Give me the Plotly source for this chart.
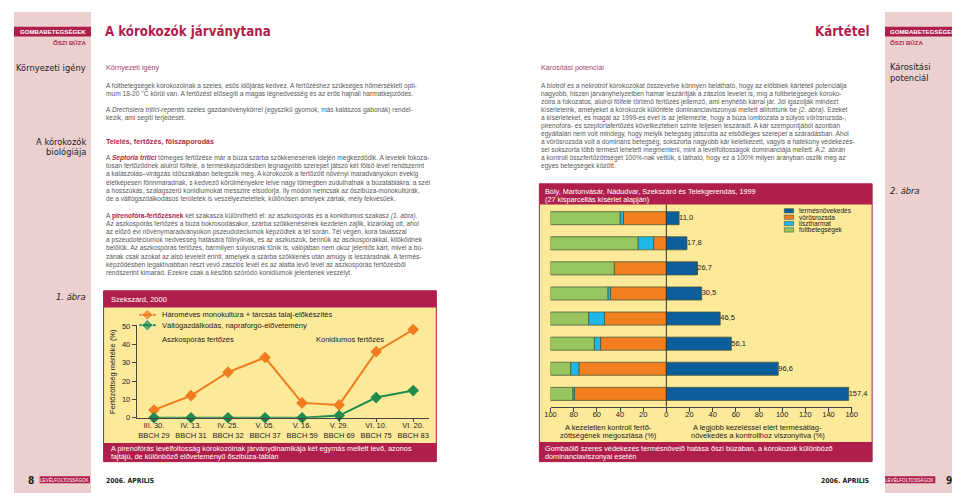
import plotly.graph_objects as go

W, H = 960, 493
def px(x): return x / W
def py(y): return 1 - y / H

# ---------------- data: chart 1 (1. ábra) ----------------
dates = ["III. 30.", "IV. 13.", "IV. 25.", "V. 05.", "V. 16.", "V. 29.", "VI. 10.", "VI. 20."]
bbch = ["BBCH 29", "BBCH 31", "BBCH 32", "BBCH 37", "BBCH 59", "BBCH 69", "BBCH 75", "BBCH 83"]
mono = [4.2, 12.0, 24.8, 32.8, 8.1, 7.0, 36.0, 48.0]
valto = [0, 0, 0, 0, 0, 1.2, 11.0, 14.8]
series1_names = ["Hároméves monokultúra + tárcsás talaj-előkészítés",
                 "Váltógazdálkodás, napraforgó-elővetemény"]
y1_ticks = [0, 10, 20, 30, 40, 50]

# ---------------- data: chart 2 (2. ábra) ----------------
termes = [11.0, 17.8, 26.7, 30.5, 46.5, 56.1, 96.6, 157.4]
voros = [37.0, 11.0, 45.0, 48.2, 53.4, 56.8, 75.5, 79.3]
liszt = [3.0, 13.5, 0.0, 2.3, 13.7, 5.4, 7.1, 1.5]
folt = [60.0, 75.5, 55.0, 49.5, 32.9, 37.8, 17.4, 19.2]
series2_names = ["termésnövekedés", "vörösrozsda", "lisztharmat", "foltbetegségek"]
x2_ticks = [-100, -80, -60, -40, -20, 0, 20, 40, 60, 80, 100, 120, 140, 160]

# ---------------- styles ----------------
CRIMSON = "#b01f4b"
PINK = "#ebd0cf"
YELLOW = "#fde99a"
ORANGE = "#f07d1f"
GREEN = "#1f8c4e"
C_BLUE = "#0b5d9c"
C_ORANGE = "#f27f20"
C_LBLUE = "#1db7ea"
C_GREEN = "#97c55f"
OUTLINE = "#4a5a3a"
DARK = "#222222"
GREY = "#5a5a5a"
MAG = "#a8426f"
SANS = "Liberation Sans, Arial, sans-serif"
NARROW = "Liberation Sans Narrow, Arial Narrow, DejaVu Sans Condensed, sans-serif"

fig = go.Figure()

# ---------------- chart 1 traces ----------------
xpos = list(range(len(dates)))
fig.add_trace(go.Scatter(x=xpos, y=mono, mode="lines+markers", name=series1_names[0],
                         line=dict(color=ORANGE, width=2),
                         marker=dict(symbol="diamond", size=9, color=ORANGE),
                         cliponaxis=False, xaxis="x", yaxis="y"))
fig.add_trace(go.Scatter(x=xpos, y=valto, mode="lines+markers", name=series1_names[1],
                         line=dict(color=GREEN, width=2),
                         marker=dict(symbol="diamond", size=9, color=GREEN),
                         cliponaxis=False, xaxis="x", yaxis="y"))

# ---------------- chart 2 traces ----------------
rows = list(range(len(termes)))
bar_specs = [
    (series2_names[0], termes, C_BLUE, 1),
    (series2_names[1], voros, C_ORANGE, -1),
    (series2_names[2], liszt, C_LBLUE, -1),
    (series2_names[3], folt, C_GREEN, -1),
]
for name, vals, col, sgn in bar_specs:
    fig.add_trace(go.Bar(x=[sgn * v for v in vals], y=rows, orientation="h", name=name,
                         width=0.52, marker=dict(color=col, line=dict(color=OUTLINE, width=0.8)),
                         xaxis="x2", yaxis="y2"))
fig.add_trace(go.Scatter(x=termes, y=rows, mode="text",
                         text=[f"{v:.1f}".replace(".", ",") for v in termes],
                         textposition="middle right",
                         textfont=dict(family=SANS, size=7.5, color=DARK),
                         cliponaxis=False, xaxis="x2", yaxis="y2"))

# ---------------- legend symbols for chart 1 (pixel overlay axis) ----------------
for yy, col in [(308.5, ORANGE), (319.0, GREEN)]:
    fig.add_trace(go.Scatter(x=[127, 135, 143.5], y=[yy, yy, yy], mode="lines+markers",
                             line=dict(color=col, width=2),
                             marker=dict(symbol="diamond", size=[0, 9, 0], color=col),
                             cliponaxis=False, xaxis="x3", yaxis="y3"))

# ---------------- layout / axes ----------------
tick_font = dict(family=SANS, size=7.5, color=DARK)
fig.update_layout(
    width=W, height=H, margin=dict(l=0, r=0, t=0, b=0),
    paper_bgcolor="white", plot_bgcolor="rgba(0,0,0,0)",
    showlegend=False, barmode="relative",
    xaxis=dict(domain=[px(124.3), px(420)], range=[-0.464, 7.42], anchor="y",
               tickvals=xpos, ticktext=[f"{d}<br>{b}" for d, b in zip(dates, bbch)],
               ticks="outside", ticklen=3, tickcolor="#444", showline=True, linecolor="#444",
               linewidth=1, showgrid=False, zeroline=False, tickfont=tick_font,
               ticklabelstandoff=-3, fixedrange=True),
    yaxis=dict(domain=[py(413.3), py(319)], range=[0, 50.4], anchor="x",
               tickvals=y1_ticks, ticks="outside", ticklen=4, tickcolor="#444",
               showline=True, linecolor="#444", linewidth=1, showgrid=False, zeroline=False,
               tickfont=tick_font, fixedrange=True),
    xaxis2=dict(domain=[px(543.3), px(848.3)], range=[-100, 160], anchor="y2",
                tickvals=x2_ticks, ticktext=[str(abs(t)) for t in x2_ticks],
                ticks="outside", ticklen=4, tickcolor="#444", showline=True, linecolor="#444",
                linewidth=1, showgrid=False, zeroline=False, tickfont=tick_font,
                ticklabelstandoff=-4, fixedrange=True),
    yaxis2=dict(domain=[py(402), py(196)], range=[7.51, -0.548], anchor="x2",
                visible=False, fixedrange=True),
    xaxis3=dict(domain=[0, 1], range=[0, W], anchor="y3", visible=False, fixedrange=True),
    yaxis3=dict(domain=[0, 1], range=[H, 0], anchor="x3", visible=False, fixedrange=True),
)

shapes = []
def rect(x0, y0, x1, y1, fill, line=None, lw=0, layer="below"):
    shapes.append(dict(type="rect", xref="paper", yref="paper",
                       x0=px(x0), x1=px(x1), y0=py(y1), y1=py(y0),
                       fillcolor=fill, line=dict(color=line or fill, width=lw), layer=layer))

# sidebars and bands
rect(0, 0, 78, H, PINK)
rect(882, 0, W, H, PINK)
rect(0, 15, 78, 25, CRIMSON)
rect(882, 15, W, 25, CRIMSON)
rect(26, 473, 77, 480, CRIMSON)
rect(882, 473, 933, 480, CRIMSON)
# chart 1 box
rect(90.7, 284, 427.7, 458, YELLOW, CRIMSON, 1)
rect(90.7, 284, 427.7, 301, CRIMSON)
rect(90.7, 439, 427.7, 458, CRIMSON)
# chart 2 box
rect(532, 175, 869, 458, YELLOW, CRIMSON, 1)
rect(532, 175, 869, 196, CRIMSON)
rect(532, 438, 869, 458, CRIMSON)
# zero line chart 2
shapes.append(dict(type="line", xref="x2", yref="paper", x0=0, x1=0, y0=py(402), y1=py(196),
                   line=dict(color="#333", width=1), layer="above"))
# legend squares chart 2
leg2_colors = [C_BLUE, C_ORANGE, C_LBLUE, C_GREEN]
leg2_y = [202.5, 209.0, 215.5, 222.0]
for yy, col in zip(leg2_y, leg2_colors):
    rect(780, yy - 2.2, 789.5, yy + 2.2, col, OUTLINE, 0.6, layer="above")
fig.update_layout(shapes=shapes)

ann = []
def text(x, y, s, size=6.6, color=GREY, family=SANS, xanchor="left", angle=0):
    ann.append(dict(x=px(x), y=py(y), xref="paper", yref="paper", text=s, showarrow=False,
                    xanchor=xanchor, yanchor="middle", textangle=angle,
                    font=dict(family=family, size=size, color=color)))

# header
text(75, 20, "<b>GOMBABETEGSÉGEK</b>", 6.1, "white", SANS, "right")
text(75, 31, "<b>ŐSZI BÚZA</b>", 6.1, CRIMSON, SANS, "right")
text(885, 20, "<b>GOMBABETEGSÉGEK</b>", 6.1, "white", SANS, "left")
text(885, 31, "<b>ŐSZI BÚZA</b>", 6.1, CRIMSON, SANS, "left")
text(90, 20, "<b>A kórokozók járványtana</b>", 13.2, CRIMSON, NARROW, "left")
text(869, 20, "<b>Kártétel</b>", 13.2, CRIMSON, NARROW, "right")

# sidebar headings
text(75, 57, "Környezeti igény", 9.3, DARK, NARROW, "right")
text(75, 132, "A kórokozók", 9.3, DARK, NARROW, "right")
text(75, 142, "biológiája", 9.3, DARK, NARROW, "right")
text(75, 290, "<i>1. ábra</i>", 9.3, DARK, NARROW, "right")
text(885, 56, "Károsítási", 9.3, DARK, NARROW, "left")
text(885, 67, "potenciál", 9.3, DARK, NARROW, "left")
text(885, 182, "<i>2. ábra</i>", 9.3, DARK, NARROW, "left")

# footer
text(12, 477, "<b>8</b>", 10, DARK, NARROW, "left")
text(51.5, 476.7, "LEVÉLFOLTOSSÁGOK", 4.6, "white", SANS, "center")
text(91, 477, "<b>2006. ÁPRILIS</b>", 6.8, DARK, NARROW, "left")
text(868, 477, "<b>2006. ÁPRILIS</b>", 6.8, DARK, NARROW, "right")
text(907.5, 476.7, "LEVÉLFOLTOSSÁGOK", 4.6, "white", SANS, "center")
text(942, 477, "<b>9</b>", 10, DARK, NARROW, "left")

# body text, left column
CR = "#b01f4b"
text(91, 57, "Környezeti igény", 7.2, MAG)
left_a = [
    (75.0, "A foltbetegségek kórokozóinak a szeles, esős időjárás kedvez. A fertőzéshez szükséges hőmérsékleti opti-"),
    (83.4, "mum 18-20 °C körül van. A fertőzést elősegíti a magas légnedvesség és az erős hajnali harmatképződés."),
    (99.7, "A <i>Drechslera tritici-repentis</i> széles gazdanövénykörrel (egyszikű gyomok, más kalászos gabonák) rendel-"),
    (108.1, "kezik, ami segíti terjedését."),
]
for yy, s in left_a:
    text(91, yy, s)
text(91, 132, "<b>Telelés, fertőzés, fölszaporodás</b>", 7.2, CR)
left_b = [
    f"A <b><i><span style='color:{CR}'>Septoria tritici</span></i></b> tömeges fertőzése már a búza szárba szökkenésének idején megkezdődik. A levelek fokoza-",
    "tosan fertőződnek alulról fölfelé, a termésképződésben legnagyobb szerepet játszó két fölső levél rendszerint",
    "a kalászolás–virágzás időszakában betegszik meg. A kórokozók a fertőzött növényi maradványokon évekig",
    "életképesen fönnmaradnak, s kedvező körülményekre lelve nagy tömegben zúdulhatnak a búzatáblákra: a szél",
    "a hosszúkás, szalagszerű konidiumokat messzire elsodorja. Ily módon nemcsak az őszibúza-monokultúrák,",
    "de a váltógazdálkodásos területek is veszélyeztetettek, különösen amelyek zártak, mély fekvésűek.",
]
for i, s in enumerate(left_b):
    text(91, 148.7 + 8.38 * i, s)
left_c = [
    f"A <b><span style='color:{CR}'>pirenofóra-fertőzésnek</span></b> két szakasza különíthető el: az aszkospórás és a konidiumos szakasz <i>(1. ábra)</i>.",
    "Az aszkospórás fertőzés a búza bokrosodásakor, szárba szökkenésének kezdetén zajlik, kizárólag ott, ahol",
    "az előző évi növénymaradványokon pszeudotéciumok képződtek a tél során. Tél végén, kora tavasszal",
    "a pszeudotéciumok nedvesség hatására fölnyílnak, és az aszkuszok, bennük az aszkospórákkal, kilökődnek",
    "belőlük. Az aszkospórás fertőzés, bármilyen súlyosnak tűnik is, valójában nem okoz jelentős kárt, mivel a bú-",
    "zának csak azokat az alsó leveleit érinti, amelyek a szárba szökkenés után amúgy is leszáradnak. A termés-",
    "képződésben legaktívabban részt vevő zászlós levél és az alatta levő levél az aszkospórás fertőzésből",
    "rendszerint kimarad. Ezekre csak a később szóródó konidiumok jelentenek veszélyt.",
]
for i, s in enumerate(left_c):
    text(91, 207.3 + 8.38 * i, s)

# body text, right column
text(531.5, 57, "Károsítási potenciál", 7.2, MAG)
right_a = [
    "A biotróf és a nekrotróf kórokozókat összevetve könnyen belátható, hogy az előbbiek kártételi potenciálja",
    "nagyobb, hiszen járványhelyzetben hamar leszárítják a zászlós levelet is, míg a foltbetegségek kóroko-",
    "zóira a fokozatos, alulról fölfelé történő fertőzés jellemző, ami enyhébb kárral jár. Jól igazolják mindezt",
    "kísérleteink, amelyeket a kórokozók különféle dominanciaviszonyai mellett állítottunk be <i>(2. ábra)</i>. Ezeket",
    "a kísérleteket, és magát az 1999-es évet is az jellemezte, hogy a búza lombozata a súlyos vörösrozsda-,",
    "pirenofóra- és szeptóriafertőzés következtében szinte teljesen leszáradt. A kár szempontjából azonban",
    "egyáltalán nem volt mindegy, hogy melyik betegség játszotta az elsődleges szerepet a száradásban. Ahol",
    "a vörösrozsda volt a domináns betegség, sokszorta nagyobb kár keletkezett, vagyis a hatékony védekezés-",
    "sel sokszorta több termést lehetett megmenteni, mint a levélfoltosságok dominanciája mellett. A <i>2. ábrán</i>",
    "a kontroll összfertőzöttségét 100%-nak vettük, s látható, hogy ez a 100% milyen arányban oszlik meg az",
    "egyes betegségek között.",
]
for i, s in enumerate(right_a):
    text(531.5, 75.5 + 8.15 * i, s)

# chart 1 texts
text(96, 292.5, "Szekszárd, 2000", 7.5, "white")
text(148, 308.5, series1_names[0], 7.5, DARK)
text(148, 319.0, series1_names[1], 7.5, DARK)
text(186.7, 334, "Aszkospórás fertőzés", 7.5, DARK, SANS, "center")
text(340, 334, "Konidiumos fertőzés", 7.5, DARK, SANS, "center")
text(100, 366, "Fertőzöttség mértéke (%)", 7.5, DARK, SANS, "center", -90)
text(96, 444.7, "A pirenofórás levélfoltosság kórokozóinak járványdinamikája két egymás mellett levő, azonos", 7.3, "white")
text(96, 453.2, "fajtájú, de különböző előveteményű őszibúza-táblán", 7.3, "white")

# chart 2 texts
text(536, 183, "Bóly, Martonvásár, Nádudvar, Szekszárd és Telekgerendás, 1999", 7.3, "white")
text(536, 190.5, "(27 kisparcellás kísérlet alapján)", 7.3, "white")
for yy, name in zip(leg2_y, series2_names):
    text(793, yy, name, 6.6, DARK)
text(601.7, 423, "A kezeletlen kontroll fertő-", 7.5, DARK, SANS, "center")
text(601.7, 431.5, "zöttségének megoszlása (%)", 7.5, DARK, SANS, "center")
text(753, 423, "A legjobb kezeléssel elért termésátlag-", 7.5, DARK, SANS, "center")
text(753, 431.5, "növekedés a kontrollhoz viszonyítva (%)", 7.5, DARK, SANS, "center")
text(536, 444.7, "Gombaölő szeres védekezés termésnövelő hatása őszi búzában, a kórokozók különböző", 7.3, "white")
text(536, 453.2, "dominanciaviszonyai esetén", 7.3, "white")

fig.update_layout(annotations=ann)
fig.write_html("out.html")
